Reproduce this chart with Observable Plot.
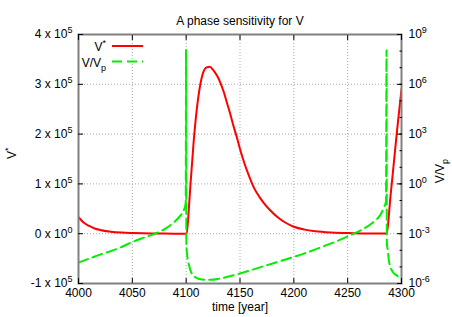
<!DOCTYPE html>
<html><head><meta charset="utf-8">
<script src="https://cdn.jsdelivr.net/npm/d3@7"></script>
<script src="https://cdn.jsdelivr.net/npm/@observablehq/plot@0.6"></script>
<style>body{margin:0;background:#fff}svg{display:block}</style>
</head><body><div id="chart"></div>
<script>
const title = "A phase sensitivity for V";
const xLabel = "time [year]";
const yLabel = "V^*";
const y2Label = "V/V_p";
const legendNames = ["V^*", "V/V_p"];
const colors = ["#ff0000", "#00ee00"];

const xTicks = [4000, 4050, 4100, 4150, 4200, 4250, 4300];
const yTicks = [-1e5, 0, 1e5, 2e5, 3e5, 4e5];
const yTickLabels = ["-1 x 10^5", "0 x 10^0", "1 x 10^5", "2 x 10^5", "3 x 10^5", "4 x 10^5"];
const y2Exponents = [-6, -3, 0, 3, 6, 9];
const y2TickLabels = ["10^-6", "10^-3", "10^0", "10^3", "10^6", "10^9"];
const y2MinorExponents = [-6,-5,-4,-3,-2,-1,0,1,2,3,4,5,6,7,8,9];

// V* (left axis)
const redYears  = [4000, 4005, 4010, 4015, 4020, 4030, 4040, 4050, 4060, 4070, 4080, 4090, 4100.5, 4102.5, 4104, 4107, 4110, 4113, 4116, 4119, 4122, 4125, 4129, 4132, 4135, 4138, 4141, 4144, 4147, 4150, 4154, 4158, 4163, 4168, 4172, 4178, 4185, 4192, 4200, 4210, 4220, 4235, 4250, 4265, 4280, 4286, 4290, 4293, 4296, 4300];
const redValues = [33000, 22000, 15500, 10500, 7500, 4000, 2200, 1300, 700, 400, 200, 100, 0, 50000, 99000, 186000, 252000, 298000, 325000, 334000, 335000, 329000, 316000, 302000, 284000, 262000, 240000, 216000, 194000, 170000, 142000, 118000, 92000, 74000, 62000, 47000, 33000, 22500, 14000, 8200, 5000, 2500, 1200, 600, 300, 200, 80000, 145000, 210000, 290000];

// V/Vp (right log axis)
const greenYears  = [4000, 4010, 4020, 4030, 4040, 4050, 4060, 4070, 4080, 4088, 4094, 4098, 4099.6, 4099.9, 4100.2, 4101, 4102.5, 4104.5, 4107, 4110, 4113, 4118, 4123, 4130, 4135, 4147, 4160, 4175, 4190, 4200, 4215, 4228, 4240, 4252, 4265, 4272, 4277, 4281, 4283.5, 4285.6, 4286.1, 4286.4, 4287.3, 4288.3, 4291.3, 4296, 4300];
const greenValues = [1.82e-5, 3.16e-5, 5.5e-5, 8.9e-5, 1.58e-4, 3.16e-4, 5.6e-4, 9.5e-4, 1.9e-3, 4.5e-3, 0.0112, 0.028, 0.071, 1.26e8, 2.5e-4, 5e-5, 1.4e-5, 5e-6, 2.9e-6, 2.1e-6, 1.8e-6, 1.66e-6, 1.66e-6, 1.9e-6, 2.24e-6, 3.55e-6, 6.3e-6, 1.26e-5, 2.5e-5, 4.0e-5, 8.5e-5, 1.78e-4, 3.55e-4, 7.9e-4, 2.0e-3, 4.0e-3, 7.4e-3, 0.0158, 0.037, 0.089, 1.12e8, 2.5e-4, 1e-4, 2.3e-5, 5.8e-6, 2.9e-6, 1.9e-6];

const yMin = -1e5, yMax = 4e5, eMin = -6, eMax = 9;
const toLeft = v => yMin + (Math.log10(v) - eMin) / (eMax - eMin) * (yMax - yMin);

const red = redYears.map((t, i) => ({t, v: redValues[i]}));
const green = greenYears.map((t, i) => ({t, v: toLeft(greenValues[i])}));
const yLabelMap = new Map(yTicks.map((d, i) => [d, yTickLabels[i]]));
const y2Pos = y2Exponents.map(e => toLeft(Math.pow(10, e)));
const y2LabelMap = new Map(y2Pos.map((d, i) => [d, y2TickLabels[i]]));
const y2MinorPos = y2MinorExponents.map(e => toLeft(Math.pow(10, e)));

const font = "'Liberation Sans', Arial, sans-serif";
const chart = Plot.plot({
  width: 452, height: 317,
  marginLeft: 78, marginRight: 51, marginTop: 34, marginBottom: 34,
  style: {fontFamily: font, fontSize: "12px", background: "#fff", color: "#000"},
  x: {domain: [4000, 4300]},
  y: {domain: [yMin, yMax]},
  marks: [
    Plot.gridX(xTicks, {stroke: "#aaa", strokeOpacity: 1, strokeDasharray: "1,2"}),
    Plot.gridY(yTicks, {stroke: "#aaa", strokeOpacity: 1, strokeDasharray: "1,2"}),
    Plot.line(red, {x: "t", y: "v", stroke: colors[0], strokeWidth: 2, curve: "monotone-x", clip: true}),
    Plot.line(green, {x: "t", y: "v", stroke: colors[1], strokeWidth: 2, strokeDasharray: "10,5", curve: "monotone-x", clip: true}),
    Plot.frame({stroke: "#808080", strokeWidth: 2}),
    Plot.axisX(xTicks, {anchor: "bottom", tickSize: -5, tickPadding: 10, tickFormat: d => String(d), label: null}),
    Plot.axisX(xTicks, {anchor: "top", tickSize: -5, fill: "none", label: null}),
    Plot.axisY(yTicks, {anchor: "left", tickSize: -5, tickPadding: 11, tickFormat: d => yLabelMap.get(d), label: null}),
    Plot.axisY(y2Pos, {anchor: "right", tickSize: -5, tickPadding: 12, tickFormat: d => y2LabelMap.get(d), label: null}),
    Plot.axisY(y2MinorPos, {anchor: "right", tickSize: -2.5, fill: "none", label: null}),
    Plot.text([title], {frameAnchor: "top", dy: -18, fontSize: 12}),
    Plot.text([xLabel], {frameAnchor: "bottom", dy: 27, fontSize: 12}),
    Plot.text([yLabel], {frameAnchor: "left", dx: -66, rotate: -90, fontSize: 12}),
    Plot.text([y2Label], {frameAnchor: "right", dx: 39, rotate: -90, fontSize: 12})
  ]
});

const svg = d3.select(chart);
// legend
const lg = svg.append("g").attr("font-family", font).attr("font-size", 12);
legendNames.forEach((name, i) => {
  const y = 47 + i * 15.5;
  lg.append("text").attr("x", 106).attr("y", y).attr("dy", "0.35em").attr("text-anchor", "end").text(name);
  lg.append("line").attr("x1", 112).attr("x2", 143).attr("y1", y - 1).attr("y2", y - 1)
    .attr("stroke", colors[i]).attr("stroke-width", 2).attr("stroke-dasharray", i ? "10,5" : null);
});

// superscripts / subscripts
function rich(el) {
  const s = el.textContent;
  if (!/[\^_]/.test(s)) return;
  const sel = d3.select(el);
  sel.text(null);
  const re = /([\^_])([-\w*]+)/g;
  let last = 0, m, off = 0;
  const add = (txt, shift, small) => {
    const t = sel.append("tspan").text(txt);
    const d = shift - off;
    if (d) t.attr("dy", d);
    if (small) t.attr("font-size", 9);
    off = shift;
  };
  while ((m = re.exec(s))) {
    if (m.index > last) add(s.slice(last, m.index), 0, false);
    add(m[2], m[1] === "^" ? -5 : 4, true);
    last = re.lastIndex;
  }
  if (last < s.length) add(s.slice(last), 0, false);
}
svg.selectAll("text").each(function() { rich(this); });
document.getElementById("chart").appendChild(chart);
</script>
</body></html>
